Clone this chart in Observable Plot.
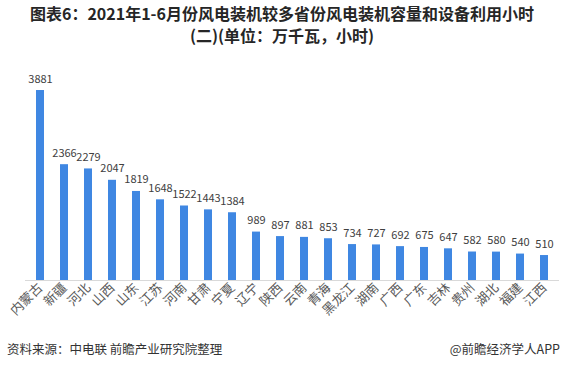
<!DOCTYPE html>
<html><head><meta charset="utf-8">
<script src="https://cdn.jsdelivr.net/npm/d3@7"></script>
<script src="https://cdn.jsdelivr.net/npm/@observablehq/plot@0.6"></script>
<style>
body{margin:0;width:564px;height:368px;background:#fff;font-family:"Noto Sans CJK SC","Noto Sans",sans-serif;position:relative;overflow:hidden}
#title{position:absolute;left:0;top:2px;width:564px;text-align:center;font-weight:bold;font-size:16px;line-height:22px;color:#262626}
#chart{position:absolute;left:0;top:50px}
#src{position:absolute;left:7px;top:339px;font-size:12.5px;color:#333}
#brand{position:absolute;right:4px;top:339px;font-size:12.5px;color:#333}
</style></head><body>
<div id="title">图表6：2021年1-6月份风电装机较多省份风电装机容量和设备利用小时<br>(二)(单位：万千瓦，小时)</div>
<div id="chart"></div>
<div id="src">资料来源：中电联 前瞻产业研究院整理</div>
<div id="brand">@前瞻经济学人APP</div>
<script>
const provinces = ["内蒙古","新疆","河北","山西","山东","江苏","河南","甘肃","宁夏","辽宁","陕西","云南","青海","黑龙江","湖南","广西","广东","吉林","贵州","湖北","福建","江西"];
const capacity = [3881,2366,2279,2047,1819,1648,1522,1443,1384,989,897,881,853,734,727,692,675,647,582,580,540,510];
const data = provinces.map((p,i)=>({p, v: capacity[i]}));
const chart = Plot.plot({
  width: 564, height: 285,
  marginLeft: 25, marginRight: 5, marginTop: 20, marginBottom: 55,
  style: {fontFamily: '"Noto Sans CJK SC","Noto Sans",sans-serif', fontSize: "13px", color: "#595959", background: "#fff"},
  x: {domain: provinces, paddingInner: 0.67, paddingOuter: 0.335, label: null, tickSize: 0, tickRotate: -45, tickPadding: 5},
  y: {domain: [0, 4290], axis: null},
  marks: [
    Plot.barY(data, {x: "p", y: "v", fill: "#3f87e2"}),
    Plot.ruleY([0], {stroke: "#d9d9d9", strokeWidth: 1}),
    Plot.text(data, {x: "p", y: "v", text: d => String(d.v), dy: -8, lineAnchor: "bottom", fill: "#404040", fontSize: 11})
  ]
});
document.getElementById("chart").appendChild(chart);
</script>
</body></html>
